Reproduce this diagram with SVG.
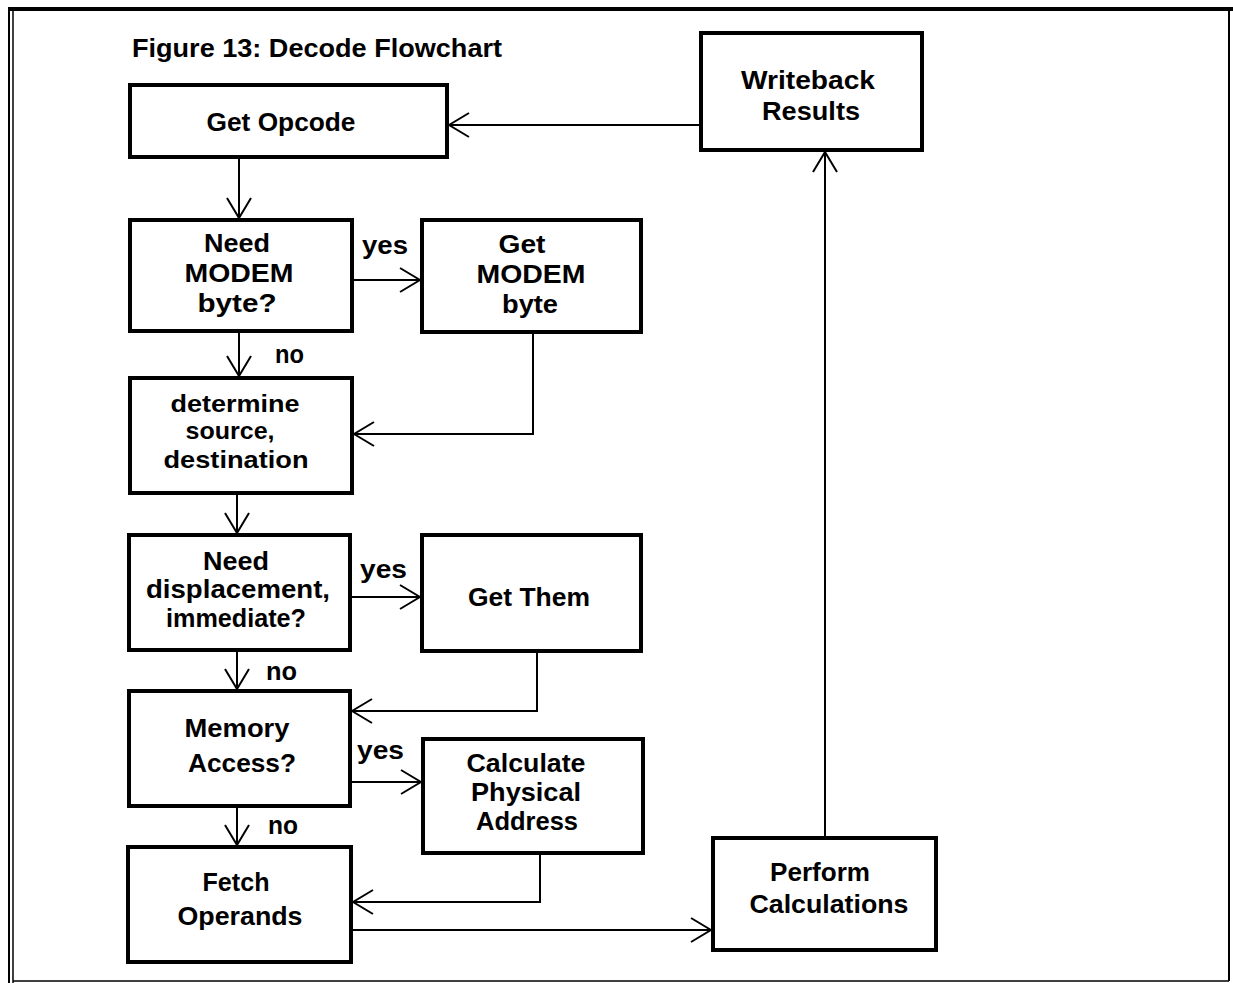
<svg xmlns="http://www.w3.org/2000/svg" width="1233" height="983" viewBox="0 0 1233 983">
  <style>
    .box { fill: #fff; stroke: #000; stroke-width: 4; }
    .t { font-family: "Liberation Sans", Arial, sans-serif; font-weight: bold; font-size: 26px; fill: #000; text-anchor: middle; }
    .t.sm { font-size: 24px; }
    .lbl { font-family: "Liberation Sans", Arial, sans-serif; font-weight: bold; font-size: 26px; fill: #000; }
    .wire { fill: none; stroke: #000; stroke-width: 2; marker-end: url(#open); }
    .frame { fill: none; stroke: #000; }
  </style>
  <defs>
    <marker id="open" viewBox="0 0 22 26" refX="21" refY="13" markerWidth="22" markerHeight="26" markerUnits="userSpaceOnUse" orient="auto">
      <path d="M1,1 L21,13 L1,25" fill="none" stroke="#000" stroke-width="2"/>
    </marker>
  </defs>

  <rect width="1233" height="983" fill="#fff"/>

  <!-- page frame -->
  <g id="frame">
    <line class="frame" x1="8" y1="9" x2="1233" y2="9" stroke-width="4"/>
    <line class="frame" x1="9" y1="8" x2="9" y2="983" stroke-width="2"/>
    <line class="frame" x1="13" y1="10" x2="13" y2="983" stroke-width="1.5"/>
    <line class="frame" x1="1229" y1="8" x2="1229" y2="981" stroke-width="2"/>
    <line class="frame" x1="13" y1="981" x2="1229" y2="981" stroke-width="1.5"/>
  </g>

  <text id="title" class="lbl" x="132" y="57" textLength="370" lengthAdjust="spacingAndGlyphs">Figure 13: Decode Flowchart</text>

  <!-- connectors -->
  <g id="connectors">
    <line class="wire" x1="701" y1="125" x2="449" y2="125"/>
    <line class="wire" x1="239" y1="157" x2="239" y2="218"/>
    <line class="wire" x1="352" y1="280" x2="420" y2="280"/>
    <line class="wire" x1="239" y1="331" x2="239" y2="376"/>
    <polyline class="wire" points="533,332 533,434 354,434"/>
    <line class="wire" x1="237" y1="493" x2="237" y2="533"/>
    <line class="wire" x1="350" y1="597" x2="420" y2="597"/>
    <line class="wire" x1="237" y1="650" x2="237" y2="689"/>
    <polyline class="wire" points="537,651 537,711 352,711"/>
    <line class="wire" x1="350" y1="782" x2="421" y2="782"/>
    <line class="wire" x1="237" y1="806" x2="237" y2="845"/>
    <polyline class="wire" points="540,853 540,902 353,902"/>
    <line class="wire" x1="351" y1="930" x2="711" y2="930"/>
    <line class="wire" x1="825" y1="838" x2="825" y2="152"/>
  </g>

  <!-- branch labels -->
  <g id="labels">
    <text class="lbl" x="362" y="254" textLength="46" lengthAdjust="spacingAndGlyphs">yes</text>
    <text class="lbl" x="275" y="363" textLength="29" lengthAdjust="spacingAndGlyphs">no</text>
    <text class="lbl" x="360" y="578" textLength="47" lengthAdjust="spacingAndGlyphs">yes</text>
    <text class="lbl" x="266" y="680" textLength="31" lengthAdjust="spacingAndGlyphs">no</text>
    <text class="lbl" x="357" y="759" textLength="47" lengthAdjust="spacingAndGlyphs">yes</text>
    <text class="lbl" x="268" y="834" textLength="30" lengthAdjust="spacingAndGlyphs">no</text>
  </g>

  <g id="get-opcode">
    <rect class="box" x="130" y="85" width="317" height="72"/>
    <text class="t" x="281" y="131" textLength="149" lengthAdjust="spacingAndGlyphs">Get Opcode</text>
  </g>

  <g id="writeback-results">
    <rect class="box" x="701" y="33" width="221" height="117"/>
    <text class="t" x="808" y="89" textLength="134" lengthAdjust="spacingAndGlyphs">Writeback</text>
    <text class="t" x="811" y="120" textLength="98" lengthAdjust="spacingAndGlyphs">Results</text>
  </g>

  <g id="need-modem">
    <rect class="box" x="130" y="220" width="222" height="111"/>
    <text class="t" x="237" y="252" textLength="66" lengthAdjust="spacingAndGlyphs">Need</text>
    <text class="t" x="239" y="282" textLength="109" lengthAdjust="spacingAndGlyphs">MODEM</text>
    <text class="t" x="237" y="312" textLength="79" lengthAdjust="spacingAndGlyphs">byte?</text>
  </g>

  <g id="get-modem">
    <rect class="box" x="422" y="220" width="219" height="112"/>
    <text class="t" x="522" y="253" textLength="47" lengthAdjust="spacingAndGlyphs">Get</text>
    <text class="t" x="531" y="283" textLength="109" lengthAdjust="spacingAndGlyphs">MODEM</text>
    <text class="t" x="530" y="313" textLength="56" lengthAdjust="spacingAndGlyphs">byte</text>
  </g>

  <g id="determine">
    <rect class="box" x="130" y="378" width="222" height="115"/>
    <text class="t sm" x="235" y="412" textLength="129" lengthAdjust="spacingAndGlyphs">determine</text>
    <text class="t sm" x="230" y="439" textLength="89" lengthAdjust="spacingAndGlyphs">source,</text>
    <text class="t sm" x="236" y="468" textLength="145" lengthAdjust="spacingAndGlyphs">destination</text>
  </g>

  <g id="need-displacement">
    <rect class="box" x="129" y="535" width="221" height="115"/>
    <text class="t" x="236" y="570" textLength="66" lengthAdjust="spacingAndGlyphs">Need</text>
    <text class="t" x="238" y="598" textLength="184" lengthAdjust="spacingAndGlyphs">displacement,</text>
    <text class="t" x="236" y="627" textLength="140" lengthAdjust="spacingAndGlyphs">immediate?</text>
  </g>

  <g id="get-them">
    <rect class="box" x="422" y="535" width="219" height="116"/>
    <text class="t" x="529" y="606" textLength="122" lengthAdjust="spacingAndGlyphs">Get Them</text>
  </g>

  <g id="memory-access">
    <rect class="box" x="129" y="691" width="221" height="115"/>
    <text class="t" x="237" y="737" textLength="105" lengthAdjust="spacingAndGlyphs">Memory</text>
    <text class="t" x="242" y="772" textLength="108" lengthAdjust="spacingAndGlyphs">Access?</text>
  </g>

  <g id="calc-address">
    <rect class="box" x="423" y="739" width="220" height="114"/>
    <text class="t" x="526" y="772" textLength="119" lengthAdjust="spacingAndGlyphs">Calculate</text>
    <text class="t" x="526" y="801" textLength="110" lengthAdjust="spacingAndGlyphs">Physical</text>
    <text class="t" x="527" y="830" textLength="102" lengthAdjust="spacingAndGlyphs">Address</text>
  </g>

  <g id="fetch-operands">
    <rect class="box" x="128" y="847" width="223" height="115"/>
    <text class="t" x="236" y="891" textLength="67" lengthAdjust="spacingAndGlyphs">Fetch</text>
    <text class="t" x="240" y="925" textLength="125" lengthAdjust="spacingAndGlyphs">Operands</text>
  </g>

  <g id="perform-calculations">
    <rect class="box" x="713" y="838" width="223" height="112"/>
    <text class="t" x="820" y="881" textLength="100" lengthAdjust="spacingAndGlyphs">Perform</text>
    <text class="t" x="829" y="913" textLength="159" lengthAdjust="spacingAndGlyphs">Calculations</text>
  </g>
</svg>
